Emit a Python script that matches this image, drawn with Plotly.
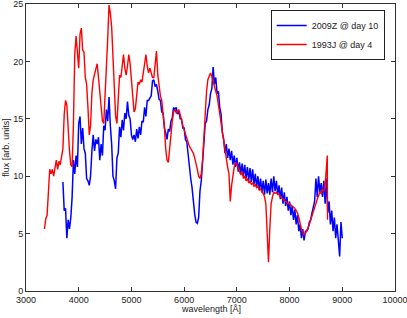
import numpy as np
import plotly.graph_objects as go

# 2009Z @ day 10, sampled every 25 A from 3700 A
blue_start = 3700
blue_step = 25
blue_flux = [
    9.5, 7.0, 7.2, 4.6, 6.2, 5.4, 6.4, 8.2, 11.4, 10.2, 11.8, 10.8,
    14.6, 15.2, 12.8, 14.2, 12.4, 12.0, 9.8, 9.6, 9.2, 10.0, 12.2, 13.6,
    12.2, 13.2, 12.8, 13.4, 11.4, 12.8, 11.8, 14.4, 14.0, 15.8, 14.8, 16.9,
    14.4, 12.8, 10.0, 9.6, 8.9, 11.6, 12.0, 14.3, 13.4, 14.9, 14.0, 15.5,
    15.0, 16.5, 15.3, 15.0, 13.6, 13.2, 13.6, 13.0, 14.1, 13.3, 14.3, 13.6,
    14.8, 14.7, 16.0, 15.2, 16.6, 16.6, 16.8, 17.0, 18.3, 18.4, 17.8, 18.0,
    17.4, 16.7, 16.6, 15.6, 15.5, 14.2, 13.8, 13.2, 14.1, 13.9, 14.8, 15.1,
    16.0, 15.8, 16.0, 15.4, 15.7, 15.0, 15.0, 14.2, 14.2, 13.2, 13.0, 11.7,
    11.1, 9.8, 9.0, 7.4, 6.7, 6.0, 5.9, 6.4, 8.7, 9.6, 11.6, 12.8,
    14.6, 14.8, 15.8, 16.2, 17.2, 17.6, 19.5, 18.0, 18.6, 17.2, 17.4, 16.0,
    15.4, 13.8, 13.2, 12.0, 12.8, 11.6, 12.4, 11.4, 12.2, 11.0, 11.8, 10.8,
    11.6, 10.4, 11.2, 10.2, 11.1, 10.0, 11.0, 9.8, 10.8, 9.6, 10.7, 9.5,
    10.6, 9.3, 10.2, 9.0, 10.0, 8.8, 9.8, 8.6, 9.6, 8.4, 9.7, 8.5,
    9.4, 8.4, 9.8, 8.6, 10.0, 8.7, 9.6, 8.4, 9.2, 8.0, 9.0, 7.6,
    8.6, 7.4, 8.2, 7.0, 7.8, 6.6, 7.4, 6.2, 7.1, 5.8, 6.6, 5.2,
    5.8, 4.6, 5.4, 4.4, 5.2, 5.2, 5.4, 6.0, 6.2, 6.8, 7.4, 7.8,
    9.8, 8.2, 10.0, 8.6, 9.4, 8.2, 9.6, 7.6, 9.8, 6.8, 7.8, 5.8,
    7.0, 5.2, 6.4, 4.6, 5.8, 4.0, 3.0, 6.0, 4.6,
]

# 1993J @ day 4, sampled every 25 A from 3350 A (plus the final spike)
red_start = 3350
red_step = 25
red_flux = [
    5.4, 6.3, 6.6, 8.4, 10.6, 10.2, 10.6, 10.0, 10.8, 11.4,
    10.6, 11.3, 11.0, 11.6, 12.4, 15.4, 16.6, 16.2, 13.8, 12.2,
    11.0, 10.8, 14.6, 20.6, 22.2, 20.8, 19.4, 22.4, 22.9, 21.0,
    20.8, 18.6, 18.0, 16.0, 13.6, 14.4, 17.2, 18.4, 18.9, 19.4,
    19.8, 18.6, 17.4, 15.6, 14.8, 14.6, 16.8, 19.6, 22.0, 24.9,
    24.2, 23.0, 20.6, 17.4, 15.2, 14.6, 17.0, 18.8, 18.6, 19.8,
    20.6, 19.4, 18.8, 19.6, 20.6, 19.8, 18.4, 16.6, 15.6, 15.9,
    17.4, 18.2, 18.0, 18.4, 18.2, 19.0, 19.8, 20.6, 19.6, 19.0,
    19.4, 19.0, 18.6, 18.6, 19.8, 20.9, 18.8, 17.6, 17.0, 16.6,
    15.6, 14.4, 12.4, 11.4, 11.2, 12.6, 14.0, 14.8, 15.6, 15.8,
    15.5, 15.6, 15.8, 15.2, 14.9, 14.4, 14.0, 13.8, 13.2, 12.9,
    12.6, 12.4, 12.2, 12.0, 11.6, 11.2, 10.6, 10.0, 9.8, 10.2,
    11.4, 13.4, 15.6, 17.4, 18.4, 18.8, 19.0, 18.7, 18.2, 17.8,
    17.4, 17.0, 16.2, 15.4, 14.6, 13.8, 12.8, 12.0, 11.2, 10.8,
    10.2, 7.8, 9.2, 10.2, 10.8, 11.2, 11.0, 10.8, 10.4, 10.1,
    10.4, 9.8, 10.0, 9.6, 9.8, 9.4, 9.6, 9.3, 9.4, 9.1,
    9.3, 9.0, 9.1, 8.8, 8.9, 8.6, 8.5, 8.2, 7.6, 5.0,
    2.5, 5.4, 7.6, 8.2, 8.6, 8.5, 8.6, 8.4, 8.4, 8.2,
    8.1, 8.0, 7.9, 7.8, 7.7, 7.6, 7.6, 7.5, 7.4, 7.3,
    7.2, 7.0, 6.8, 6.4, 5.8, 5.4, 5.0, 4.9, 5.0, 5.2,
    5.5, 5.8, 6.2, 6.6, 6.9, 7.4, 7.8, 8.0, 8.3, 8.6,
    8.5, 8.9, 8.7, 9.3, 10.8,
]
red_tail_wl = [8715, 8720]
red_tail_flux = [11.8, 6.2]

x_ticks = [3000, 4000, 5000, 6000, 7000, 8000, 9000, 10000]
y_ticks = [0, 5, 10, 15, 20, 25]

blue_wl = blue_start + blue_step * np.arange(len(blue_flux))
red_wl = list(red_start + red_step * np.arange(len(red_flux))) + red_tail_wl
red_all = red_flux + red_tail_flux

fig = go.Figure()
fig.add_trace(go.Scatter(x=blue_wl, y=blue_flux, mode="lines",
                         line=dict(color="#0000ff", width=1.5),
                         name="2009Z @ day 10"))
fig.add_trace(go.Scatter(x=red_wl, y=red_all, mode="lines",
                         line=dict(color="#ff0000", width=1.4),
                         name="1993J @ day 4"))

font = dict(family="Liberation Sans, Arial, sans-serif", size=9, color="#222222")
axis_common = dict(showgrid=False, zeroline=False, showline=True, linecolor="#333333",
                   linewidth=1, mirror="ticks", ticks="inside", ticklen=4,
                   tickcolor="#333333", tickfont=font, automargin=False,
                   ticklabeloverflow="allow")
fig.update_layout(
    width=407, height=318,
    margin=dict(l=26, r=12, t=4, b=27),
    paper_bgcolor="white", plot_bgcolor="white",
    font=font,
    showlegend=True,
    legend=dict(x=0.972, y=0.979, xanchor="right", yanchor="top",
                bordercolor="#222222", borderwidth=1, bgcolor="white",
                font=dict(family="Liberation Sans, Arial, sans-serif", size=9, color="#222222"),
                tracegroupgap=0, itemwidth=30),
    xaxis=dict(range=[3000, 10000], tickvals=x_ticks,
               ticktext=[str(v) for v in x_ticks],
               **axis_common),
    yaxis=dict(range=[0, 25], tickvals=y_ticks,
               ticktext=[str(v) for v in y_ticks],
               title=dict(text="flux [arb. units]", font=font, standoff=2),
               **axis_common),
    annotations=[dict(text="wavelength [Å]", xref="paper", yref="paper",
                      x=0.5, y=-0.064, xanchor="center", yanchor="middle",
                      showarrow=False, font=font)],
    hovermode=False,
)
fig.write_html("out.html", config={"displayModeBar": False},
               post_script="document.body.style.margin='0';document.body.style.overflow='hidden';")
